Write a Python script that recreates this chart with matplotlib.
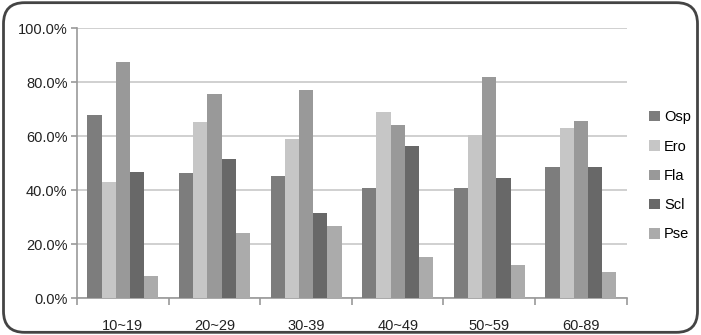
import numpy as np
import matplotlib.pyplot as plt
from matplotlib.patches import FancyBboxPatch
from matplotlib.ticker import FuncFormatter

plt.rcParams['font.family'] = ['Liberation Sans', 'DejaVu Sans']

groups = ['10~19', '20~29', '30-39', '40~49', '50~59', '60-89']
series = ['Osp', 'Ero', 'Fla', 'Scl', 'Pse']
osp = [67.8, 46.3, 45.3, 40.9, 40.9, 48.6]
ero = [43.0, 65.2, 58.8, 69.0, 60.5, 63.2]
fla = [87.3, 75.6, 77.0, 64.0, 82.0, 65.7]
scl = [46.9, 51.4, 31.6, 56.3, 44.4, 48.6]
pse = [8.1, 24.0, 26.9, 15.2, 12.3, 9.5]
colors = ['#7d7d7d', '#c6c6c6', '#999999', '#686868', '#ababab']

fig = plt.figure(figsize=(7.01, 3.35), dpi=100)
ax = fig.add_axes([0.110, 0.110, 0.784, 0.806])

x = np.arange(len(groups))
w = 0.155
for i, (name, vals) in enumerate(zip(series, [osp, ero, fla, scl, pse])):
    ax.bar(x + (i - 2) * w, vals, w, color=colors[i], label=name, zorder=3)

ax.set_xlim(-0.5, len(groups) - 0.5)
ax.set_ylim(0, 100)
ax.set_yticks(np.arange(0, 101, 20))
ax.yaxis.set_major_formatter(FuncFormatter(lambda v, p: '%.1f%%' % v))
ax.grid(axis='y', color='#c8c8c8', linewidth=1.2, zorder=0)

ax.set_xticks(x)
ax.set_xticklabels(groups)
ax.set_xticks(np.arange(-0.5, len(groups)), minor=True)
ax.tick_params(axis='x', which='major', length=0, pad=15, labelsize=10.5, colors='#222222')
ax.tick_params(axis='x', which='minor', length=5, color='#999999', width=1.2)
ax.tick_params(axis='y', length=4, color='#999999', width=1.2, labelsize=10.5,
               labelcolor='#222222', pad=3)
for s in ['top', 'right']:
    ax.spines[s].set_visible(False)
for s in ['left', 'bottom']:
    ax.spines[s].set_color('#999999')
    ax.spines[s].set_linewidth(1.2)

ax.legend(loc='center left', bbox_to_anchor=(0.918, 0.475), bbox_transform=fig.transFigure,
          frameon=False, handlelength=0.7, handleheight=0.7, handletextpad=0.3,
          labelspacing=1.05, fontsize=10.5, borderaxespad=0)

border = FancyBboxPatch((0.005, 0.008), 0.99, 0.984, boxstyle='round,pad=0,rounding_size=0.03',
                        transform=fig.transFigure, fill=False, edgecolor='#444444',
                        linewidth=2, mutation_aspect=701 / 335)
fig.patches.append(border)

fig.savefig('out.png', dpi=100)
